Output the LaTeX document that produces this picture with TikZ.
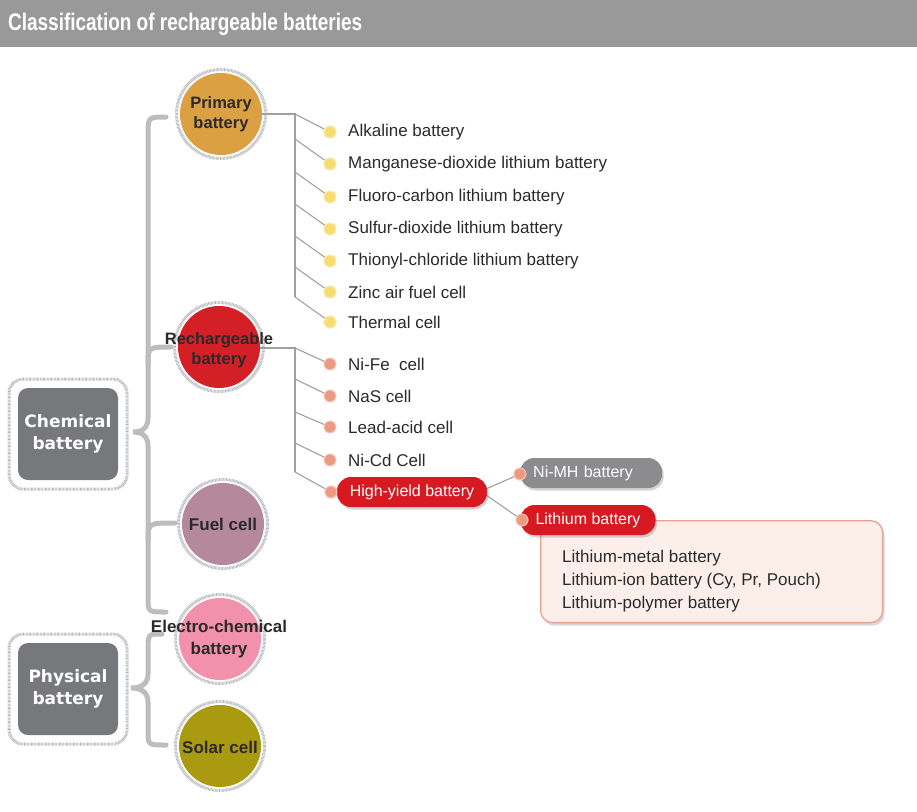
\documentclass[tikz,border=0pt]{standalone}
\usepackage{fontspec}
\setmainfont{Liberation Sans}
\newfontfamily\boxfont{DejaVu Sans}
\usetikzlibrary{shadows}
\definecolor{titlegray}{HTML}{999999}
\definecolor{txt}{HTML}{2A2A2A}
\definecolor{boxgray}{HTML}{77787B}
\definecolor{ringgray}{HTML}{B4B6BA}
\definecolor{bracegray}{HTML}{BDBDBD}
\definecolor{conngray}{HTML}{A0A0A0}
\definecolor{primc}{HTML}{DAA042}
\definecolor{rechc}{HTML}{D51F26}
\definecolor{fuelc}{HTML}{B5899B}
\definecolor{elecc}{HTML}{F291AC}
\definecolor{solarc}{HTML}{A99A10}
\definecolor{ydotc}{HTML}{F7DC72}
\definecolor{ydotedge}{HTML}{FBEBB0}
\definecolor{rdotc}{HTML}{EC9B82}
\definecolor{rdotedge}{HTML}{F6C8B8}
\definecolor{pillred}{HTML}{D71A21}
\definecolor{pillgray}{HTML}{8C8C8E}
\definecolor{detfill}{HTML}{FCEFEA}
\definecolor{detedge}{HTML}{E9A18E}
\begin{document}
\begin{tikzpicture}[x=1pt,y=-1pt,
  circ/.style={circle, minimum size=82pt, inner sep=0pt, align=center, text=txt,
    font=\fontsize{16.5}{20}\selectfont\bfseries},
  ring/.style={draw=ringgray, line width=3pt, dash pattern=on 0.7pt off 0.7pt},
  sq/.style={rounded corners=10pt, minimum width=100pt, minimum height=92pt, fill=boxgray,
    text=white, align=center, inner sep=0pt, font=\boxfont\fontsize{17}{22}\selectfont\bfseries},
  sqring/.style={draw=ringgray, line width=3pt, dash pattern=on 0.7pt off 0.7pt, rounded corners=14pt},
  brace/.style={draw=bracegray, line width=5pt, line cap=round},
  conn/.style={draw=conngray, line width=1.1pt},
  ydot/.style={circle, minimum size=12pt, inner sep=0pt, fill=ydotc, draw=ydotedge, line width=1pt},
  rdot/.style={circle, minimum size=12pt, inner sep=0pt, fill=rdotc, draw=rdotedge, line width=1pt},
  item/.style={anchor=west, inner sep=0pt, text=txt, font=\fontsize{17}{20}\selectfont},
  pill/.style={rounded corners=14pt, minimum height=30pt, inner sep=0pt, text=white,
    font=\fontsize{16}{19}\selectfont, drop shadow={opacity=0.35, shadow xshift=1.5pt, shadow yshift=-2.5pt}},
  detail/.style={rounded corners=12pt, fill=detfill, draw=detedge, line width=1.3pt,
    minimum width=342pt, minimum height=102pt, anchor=north west, inner sep=0pt,
    drop shadow={opacity=0.3, shadow xshift=2pt, shadow yshift=-3pt}},
  ]
\useasboundingbox (0,0) rectangle (917,811);
% title bar
\fill[titlegray] (0,0) rectangle (917,47);
\node[anchor=west, inner sep=0pt, text=white] (title) at (8,24)
  {\scalebox{0.79}[1]{\fontsize{24}{26}\selectfont\bfseries Classification of rechargeable batteries}};

% braces
\draw[brace] (166,117) .. controls (148,117) .. (148,135) -- (148,418)
  .. controls (148,428) and (142,432) .. (133,432)
  .. controls (142,432) and (148,436) .. (148,446) -- (148,598)
  .. controls (148,612) .. (166,612);
\draw[brace] (148,365) .. controls (148,347) .. (171,347);
\draw[brace] (148,541) .. controls (148,523) .. (175,523);
\draw[brace] (162,634) .. controls (148,634) .. (148,650) -- (148,674)
  .. controls (148,684) and (141,688) .. (131,688)
  .. controls (141,688) and (148,692) .. (148,702) -- (148,731)
  .. controls (148,745) .. (166,745);

% category boxes
\draw[sqring] (9,379) rectangle (127,489);
\node[sq] (chem) at (68,434) {Chemical\\battery};
\draw[sqring] (9,634) rectangle (127,744);
\node[sq] (phys) at (68,689) {Physical\\battery};

% circles
\node[circ, fill=primc] (prim) at (221,114) {Primary\\battery};
\draw[ring] (prim.center) circle (44.5);
\node[circ, fill=rechc] (rech) at (219,347) {};
\draw[ring] (rech.center) circle (44.5);
\node[circ, fill=fuelc] (fuel) at (223,524) {};
\draw[ring] (fuel.center) circle (44.5);
\node[circ, fill=elecc] (elec) at (220,639) {};
\draw[ring] (elec.center) circle (44.5);
\node[circ, fill=solarc] (solar) at (220,746) {};
\draw[ring] (solar.center) circle (44.5);
\node[align=center, text=txt, inner sep=0pt, font=\fontsize{16.5}{20}\selectfont\bfseries] (rechtxt) at (219,350) {Rechargeable\\battery};
\node[text=txt, inner sep=0pt, font=\fontsize{17}{20}\selectfont\bfseries] (fueltxt) at (223,524) {Fuel cell};
\node[align=center, text=txt, inner sep=0pt, font=\fontsize{17}{22}\selectfont\bfseries] (electxt) at (219,639) {Electro-chemical\\battery};
\node[text=txt, inner sep=0pt, font=\fontsize{17}{20}\selectfont\bfseries] (solartxt) at (220,747) {Solar cell};

% primary tree
\coordinate (pj) at (295,114);
\coordinate (pe) at (295,297);
\draw[conn] (prim.east) -- (pj) -- (pe);
\foreach \n/\y/\t in {a1/132/Alkaline battery, a2/164/Manganese-dioxide lithium battery,
  a3/197/Fluoro-carbon lithium battery, a4/229/Sulfur-dioxide lithium battery,
  a5/261/Thionyl-chloride lithium battery, a6/292/Zinc air fuel cell, a7/322/Thermal cell}{
  \coordinate (\n s) at (295,\y-25);
  \node[ydot] (\n) at (330,\y) {};
  \node[item] (\n t) at (348,\y) {\t};
}
\draw[conn] (pj) -- (a1);
\foreach \n in {a2,a3,a4,a5,a6,a7}{ \draw[conn] (\n s) -- (\n); }
\foreach \n in {a1,a2,a3,a4,a5,a6,a7}{ \node[ydot] at (\n) {}; }

% rechargeable tree
\coordinate (rj) at (295,348);
\coordinate (re) at (295,472);
\draw[conn] (rech.east |- rj) -- (rj) -- (re);
\foreach \n/\y/\t in {b1/364/Ni-Fe\ \ cell, b2/396/NaS cell, b3/427/Lead-acid cell, b4/460/Ni-Cd Cell}{
  \node[item] (\n t) at (348,\y) {\t};
}
\coordinate (b2s) at (295,379);
\coordinate (b3s) at (295,412);
\coordinate (b4s) at (295,443);
\node[rdot] (b1) at (330,364) {};
\node[rdot] (b2) at (330,396) {};
\node[rdot] (b3) at (330,427) {};
\node[rdot] (b4) at (330,460) {};
\node[rdot] (b5) at (331,492) {};
\draw[conn] (rj) -- (b1);
\draw[conn] (b2s) -- (b2);
\draw[conn] (b3s) -- (b3);
\draw[conn] (b4s) -- (b4);
\draw[conn] (re) -- (b5);

% high-yield branch
\node[rdot] (nimhdot) at (520,474) {};
\node[rdot] (lidot) at (522,520) {};
\draw[conn] (486,489) -- (nimhdot);
\draw[conn] (486,495) -- (lidot);
\node[pill, fill=pillred, minimum width=150pt] (hy) at (412,492) {High-yield battery};
\node[rdot] at (b5) {};
\node[pill, fill=pillgray, anchor=west, text width=116pt, align=left, inner xsep=13pt] (nimh) at (520,473) {Ni-MH battery};
\node[detail] (libox) at (540,520) {};
\node[pill, fill=pillred, minimum width=135pt] (li) at (588,520) {Lithium battery};
\node[rdot] at (nimhdot) {};
\node[rdot] at (lidot) {};
\node[anchor=west, align=left, inner sep=0pt, text=txt, font=\fontsize{17}{23}\selectfont] (litext) at (562,581)
  {Lithium-metal battery\\Lithium-ion battery (Cy, Pr, Pouch)\\Lithium-polymer battery};
\end{tikzpicture}
\end{document}
